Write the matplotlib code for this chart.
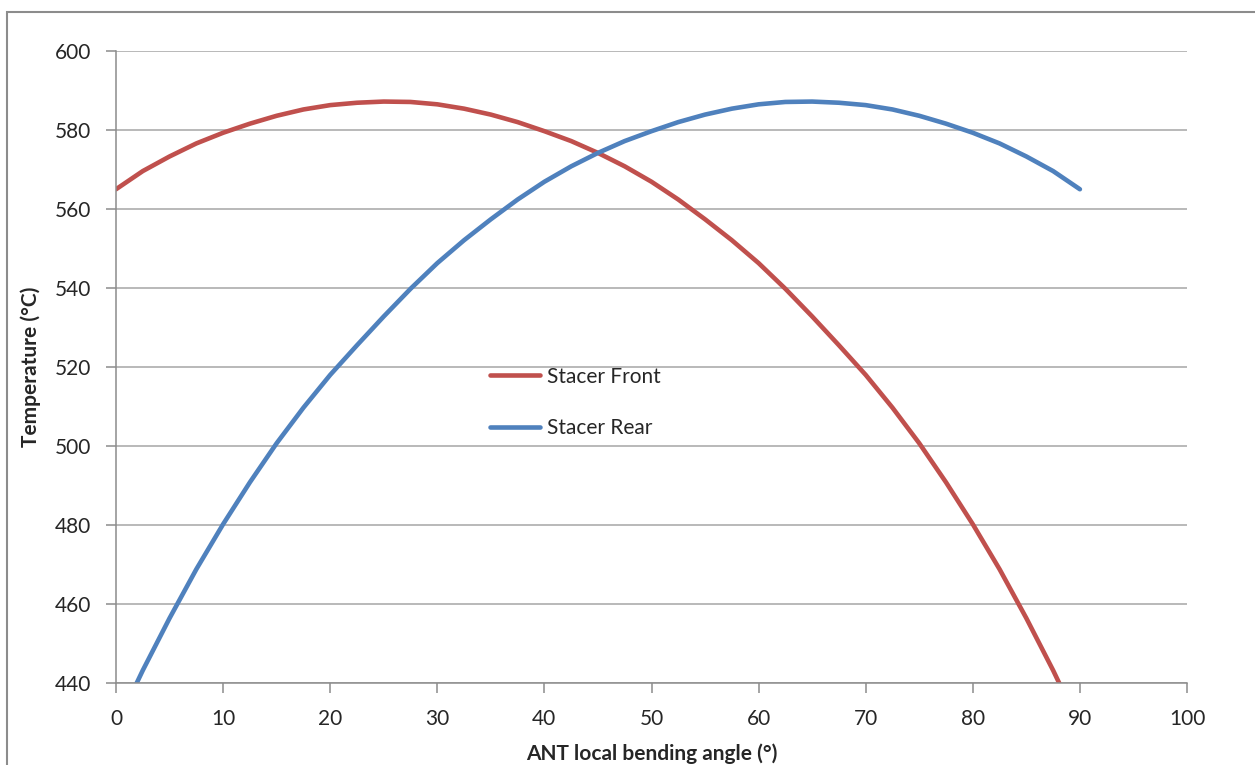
import matplotlib.pyplot as plt
from matplotlib.patches import Rectangle

# data
angle = [0, 2.5, 5, 7.5, 10, 12.5, 15, 17.5, 20, 22.5, 25, 27.5, 30, 32.5, 35, 37.5,
         40, 42.5, 45, 47.5, 50, 52.5, 55, 57.5, 60, 62.5, 65, 67.5, 70, 72.5, 75,
         77.5, 80, 82.5, 85, 87.5, 90]
front = [565.0, 569.6, 573.3, 576.6, 579.3, 581.6, 583.6, 585.2, 586.3, 586.9, 587.2,
         587.1, 586.5, 585.4, 583.9, 582.0, 579.7, 577.2, 574.2, 570.8, 566.9, 562.4,
         557.4, 552.1, 546.3, 539.8, 532.8, 525.5, 518.0, 509.7, 500.7, 490.8, 480.2,
         468.8, 456.4, 443.2, 429.0]
rear = [429.0, 443.2, 456.4, 468.8, 480.2, 490.8, 500.7, 509.7, 518.0, 525.5, 532.8,
        539.8, 546.3, 552.1, 557.4, 562.4, 566.9, 570.8, 574.2, 577.2, 579.7, 582.0,
        583.9, 585.4, 586.5, 587.1, 587.2, 586.9, 586.3, 585.2, 583.6, 581.6, 579.3,
        576.6, 573.3, 569.6, 565.0]
x_ticks = list(range(0, 101, 10))
y_ticks = list(range(440, 601, 20))

plt.rcParams['font.family'] = ['Lato', 'DejaVu Sans']
txt = '#262626'
fs = 15

fig = plt.figure(figsize=(12.55, 7.65), dpi=100)
ax = fig.add_axes([116 / 1255, 1 - 683 / 765, 1071 / 1255, 632 / 765])

# chart area border
fig.patches.append(Rectangle((7 / 1255, -0.1), 1.2, 1 - 12 / 765 + 0.1,
                             transform=fig.transFigure, fill=False,
                             edgecolor='#8c8c8c', linewidth=1.5))

ax.plot(angle, front, color='#C0504D', linewidth=3.3, label='Stacer Front',
        solid_capstyle='round')
ax.plot(angle, rear, color='#4F81BD', linewidth=3.3, label='Stacer Rear',
        solid_capstyle='round')

ax.set_xlim(0, 100)
ax.set_ylim(440, 600)
ax.set_xticks(x_ticks)
ax.set_yticks(y_ticks)
ax.grid(axis='y', color='#a6a6a6', linewidth=1.1)
ax.set_axisbelow(True)

for s in ['top', 'right']:
    ax.spines[s].set_visible(False)
for s in ['left', 'bottom']:
    ax.spines[s].set_color('#8c8c8c')
    ax.spines[s].set_linewidth(1.1)
ax.tick_params(axis='both', colors='#8c8c8c', labelcolor=txt, labelsize=fs,
               length=7, width=1.1, direction='out')
ax.tick_params(axis='x', pad=12)
ax.tick_params(axis='y', pad=11)

ax.set_xlabel('ANT local bending angle (°)', fontsize=fs, fontweight='bold',
              color=txt, labelpad=10)
ax.set_ylabel('Temperature (°C)', fontsize=fs, fontweight='bold', color=txt,
              labelpad=10)

ax.legend(loc='upper left', bbox_to_anchor=(0.349, 0.5005), frameon=False,
          fontsize=fs, handlelength=2.4, handletextpad=0.35, labelspacing=1.5,
          borderpad=0, borderaxespad=0, labelcolor=txt)

fig.savefig('out.png', dpi=100)
